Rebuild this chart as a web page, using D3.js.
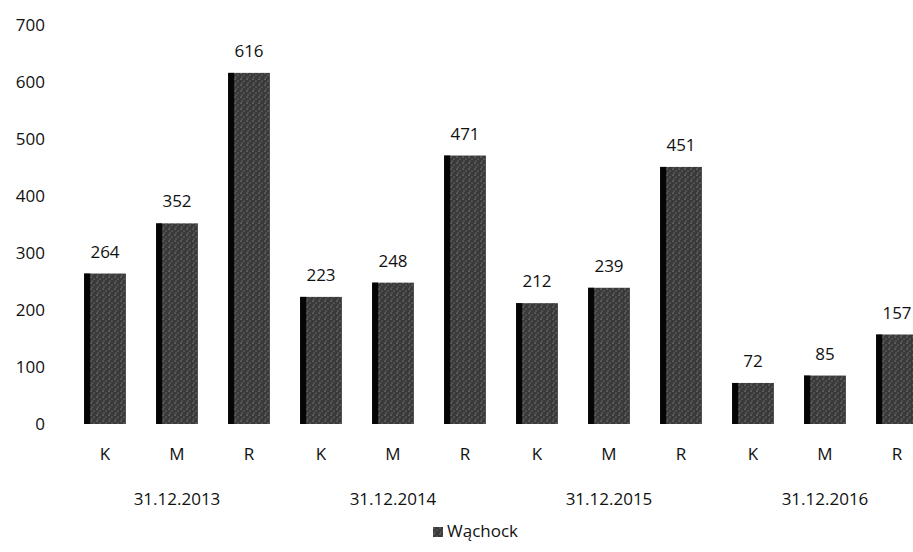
<!DOCTYPE html>
<html>
<head>
<meta charset="utf-8">
<script src="https://cdn.jsdelivr.net/npm/d3@7"></script>
<style>
  body { margin: 0; background: #fff; }
  text { font-family: "Open Sans", sans-serif; fill: #111; }
</style>
</head>
<body>
<div class="chart"></div>
<script>
const width = 913
const height = 552

// data
const dates = ["31.12.2013", "31.12.2014", "31.12.2015", "31.12.2016"]
const types = ["K", "M", "R"]
const values = [264, 352, 616, 223, 248, 471, 212, 239, 451, 72, 85, 157]
const yTicks = [0, 100, 200, 300, 400, 500, 600, 700]
const seriesName = "Wąchock"

let rows = []
dates.forEach((d, i) => {
    types.forEach((t, j) => {
        rows.push({ key: d + "|" + t, date: d, type: t, value: values[i * 3 + j] })
    })
})

const svg = d3.select(".chart").append("svg")
    .attr("width", width)
    .attr("height", height)

// speckled fill like the scanned bars
const defs = svg.append("defs")
const pat = defs.append("pattern")
    .attr("id", "speckle")
    .attr("patternUnits", "userSpaceOnUse")
    .attr("width", 6)
    .attr("height", 6)
pat.append("rect").attr("width", 6).attr("height", 6).attr("fill", "#3a3a3a")
pat.append("circle").attr("cx", 1).attr("cy", 1).attr("r", 0.6).attr("fill", "#bbb")
pat.append("circle").attr("cx", 4).attr("cy", 3).attr("r", 0.6).attr("fill", "#999")
pat.append("circle").attr("cx", 2).attr("cy", 5).attr("r", 0.5).attr("fill", "#aaa")

let x = d3.scaleBand().domain(rows.map(d => d.key)).range([69, 933]).paddingInner(0.42).paddingOuter(0.21)
let y = d3.scaleLinear().domain([0, 700]).range([424, 25])

// y axis
const yAxis = svg.append("g")
    .attr("transform", "translate(48,0)")
    .call(d3.axisLeft(y).tickValues(yTicks).tickSize(0).tickPadding(3))
yAxis.select(".domain").remove()
yAxis.selectAll("text").style("font-size", "17px").style("font-family", "Open Sans, sans-serif").attr("fill", "#111")

// bars
const bars = svg.selectAll(".bar")
    .data(rows)
    .enter()
    .append("g")
    .attr("class", "bar")

bars.append("rect")
    .attr("x", d => x(d.key))
    .attr("y", d => y(d.value))
    .attr("width", x.bandwidth())
    .attr("height", d => y(0) - y(d.value))
    .attr("fill", "url(#speckle)")

// dark left edge
bars.append("rect")
    .attr("x", d => x(d.key))
    .attr("y", d => y(d.value))
    .attr("width", 6)
    .attr("height", d => y(0) - y(d.value))
    .attr("fill", "#050505")

// value labels
bars.append("text")
    .attr("x", d => x(d.key) + x.bandwidth() / 2)
    .attr("y", d => y(d.value) - 16)
    .attr("text-anchor", "middle")
    .style("font-size", "17px")
    .text(d => d.value)

// x axis (K/M/R)
const xAxis = svg.append("g")
    .attr("transform", "translate(0,440)")
    .call(d3.axisBottom(x).tickSize(0).tickPadding(8).tickFormat(k => k.split("|")[1]))
xAxis.select(".domain").remove()
xAxis.selectAll("text").style("font-size", "17px").style("font-family", "Open Sans, sans-serif").attr("fill", "#111")

// group labels
svg.selectAll(".group")
    .data(dates)
    .enter()
    .append("text")
    .attr("class", "group")
    .attr("x", d => x(d + "|M") + x.bandwidth() / 2)
    .attr("y", 505)
    .attr("text-anchor", "middle")
    .style("font-size", "17px")
    .text(d => d)

// legend
const legend = svg.append("g").attr("transform", "translate(433,527)")
legend.append("rect").attr("width", 10).attr("height", 10).attr("y", 0).attr("fill", "url(#speckle)")
legend.append("text").attr("x", 14).attr("y", 10).style("font-size", "17px").text(seriesName)
</script>
</body>
</html>
